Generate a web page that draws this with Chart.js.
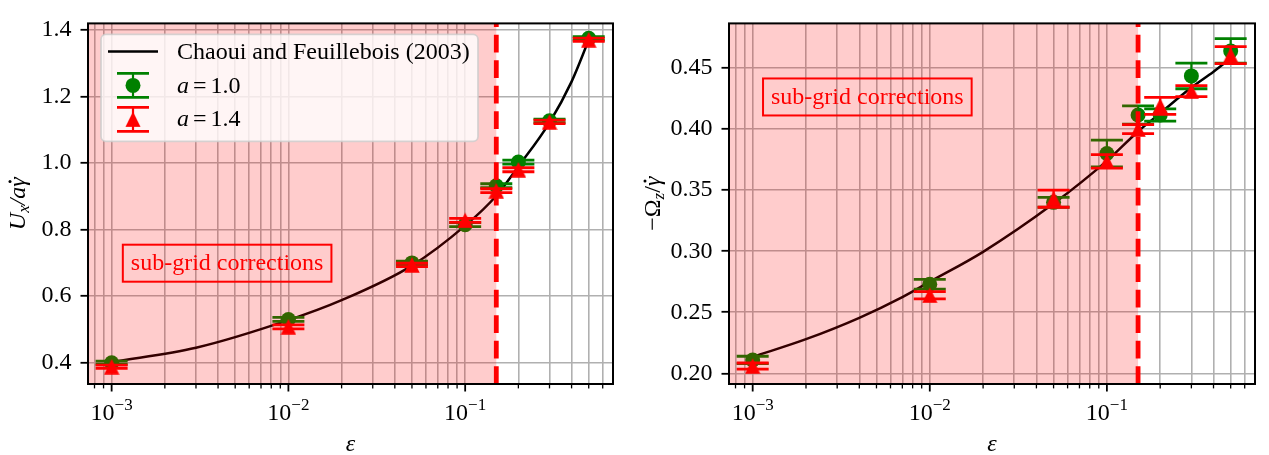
<!DOCTYPE html>
<html>
<head>
<meta charset="utf-8">
<script src="https://cdn.jsdelivr.net/npm/chart.js@4.4.1/dist/chart.umd.min.js"></script>
<style>
html, body { margin: 0; padding: 0; background: #fff; }
#wrap { position: relative; width: 1269px; height: 455px; }
canvas { position: absolute; top: 0; }
</style>
</head>
<body>
<div id="wrap">
    <canvas id="velocityChart" width="630" height="455" style="left:0"></canvas>
    <canvas id="rotationChart" width="639" height="455" style="left:630px"></canvas>
</div>
<script>
// gap sizes epsilon where the simulations were run
const gapValues = [0.001, 0.01, 0.05, 0.1, 0.15, 0.2, 0.3, 0.5];

const velocityA10 = [0.400, 0.530, 0.700, 0.815, 0.932, 1.003, 1.127, 1.375];
const velocityA10Err = [0.005, 0.006, 0.005, 0.006, 0.006, 0.006, 0.005, 0.005];
const velocityA14 = [0.388, 0.508, 0.694, 0.828, 0.917, 0.980, 1.124, 1.371];
const velocityA14Err = [0.005, 0.006, 0.005, 0.006, 0.006, 0.006, 0.005, 0.005];

const rotationA10 = [0.211, 0.273, 0.340, 0.380, 0.4115, 0.4115, 0.4435, 0.464];
const rotationA10Err = [0.003, 0.004, 0.004, 0.011, 0.0075, 0.005, 0.0105, 0.010];
const rotationA14 = [0.206, 0.264, 0.343, 0.3735, 0.400, 0.419, 0.431, 0.4605];
const rotationA14Err = [0.0025, 0.003, 0.007, 0.0055, 0.0037, 0.007, 0.0045, 0.007];

// Chaoui and Feuillebois (2003) reference curves
const velocityCurveGaps = [0.001, 0.003, 0.01, 0.02, 0.05, 0.1, 0.15, 0.2, 0.3, 0.4, 0.5];
const velocityCurve = [0.402, 0.445, 0.528, 0.588, 0.692, 0.812, 0.902, 0.990, 1.122, 1.245, 1.370];
const rotationCurveGaps = [0.001, 0.002, 0.004, 0.007, 0.01, 0.02, 0.05, 0.1, 0.15, 0.2, 0.3, 0.4, 0.5];
const rotationCurve = [0.2135, 0.228, 0.2455, 0.2625, 0.275, 0.2995, 0.339, 0.374, 0.398, 0.413, 0.434, 0.447, 0.458];

const velocityTicks = [0.4, 0.6, 0.8, 1.0, 1.2, 1.4];
const rotationTicks = [0.20, 0.25, 0.30, 0.35, 0.40, 0.45];
const gapDecades = [0.001, 0.01, 0.1];
const gapDecadeExponents = ['\u22123', '\u22122', '\u22121'];
const cutoffGap = 0.15;

const X_MIN = 7.35e-4;
const X_MAX = 0.686;
const SERIF = '"Liberation Serif", "DejaVu Serif", serif';
const FS = 24;
const GREEN = '#008000';
const RED = '#ff0000';

function toPoints(xs, ys) {
    return xs.map((x, i) => ({ x, y: ys[i] }));
}

function logTicks(min, max) {
    const ticks = [];
    for (let exp = Math.floor(Math.log10(min)); exp <= Math.ceil(Math.log10(max)); exp++) {
        for (let m = 1; m < 10; m++) {
            const v = m * Math.pow(10, exp);
            if (v >= min && v <= max) {
                ticks.push({ value: v, major: m === 1 });
            }
        }
    }
    return ticks;
}

function triangleImage(color, size) {
    const c = document.createElement('canvas');
    c.width = size;
    c.height = size;
    const g = c.getContext('2d');
    g.fillStyle = color;
    g.beginPath();
    g.moveTo(size / 2, 0.3);
    g.lineTo(0.3, size - 0.3);
    g.lineTo(size - 0.3, size - 0.3);
    g.closePath();
    g.fill();
    return c;
}

const TRIANGLE = triangleImage(RED, 16);

// mixed italic / subscript text runs
function piecesWidth(ctx, pieces) {
    return pieces.reduce((w, p) => {
        ctx.font = p.font;
        return w + (p.gap || 0) + ctx.measureText(p.text).width;
    }, 0);
}

function drawPieces(ctx, pieces, x, baseline) {
    let cx = x;
    pieces.forEach((p) => {
        cx += p.gap || 0;
        ctx.font = p.font;
        const w = ctx.measureText(p.text).width;
        ctx.fillText(p.text, cx, baseline + (p.dy || 0));
        if (p.dot) {
            ctx.beginPath();
            ctx.arc(cx + w * 0.55, baseline - 15, 1.5, 0, Math.PI * 2);
            ctx.fill();
        }
        cx += w;
    });
}

function drawErrorBar(ctx, px, top, bottom, color) {
    ctx.strokeStyle = color;
    ctx.lineWidth = 2.2;
    ctx.beginPath();
    ctx.moveTo(px, top);
    ctx.lineTo(px, bottom);
    ctx.stroke();
    ctx.lineWidth = 2.8;
    ctx.beginPath();
    ctx.moveTo(px - 16, top);
    ctx.lineTo(px + 16, top);
    ctx.moveTo(px - 16, bottom);
    ctx.lineTo(px + 16, bottom);
    ctx.stroke();
}

const errorBarPlugin = {
    id: 'errorBars',
    beforeDatasetDraw(chart, args) {
        const ds = chart.data.datasets[args.index];
        if (!ds.errors) {
            return;
        }
        const { ctx, chartArea, scales: { x, y } } = chart;
        ctx.save();
        ctx.beginPath();
        ctx.rect(chartArea.left, chartArea.top, chartArea.width, chartArea.height);
        ctx.clip();
        ds.data.forEach((pt, i) => {
            drawErrorBar(ctx, x.getPixelForValue(pt.x),
                y.getPixelForValue(pt.y + ds.errors[i]),
                y.getPixelForValue(pt.y - ds.errors[i]), ds.errorColor);
        });
        ctx.restore();
    },
};

function decorPlugin(panel) {
    return {
        id: 'decor',
        afterDatasetsDraw(chart) {
            const { ctx, chartArea: a, scales: { x } } = chart;
            const cut = x.getPixelForValue(cutoffGap);
            ctx.save();
            // shaded sub-grid region sits over the data, as in the original
            ctx.fillStyle = 'rgba(255,0,0,0.2)';
            ctx.fillRect(a.left, a.top, cut - a.left, a.height);
            ctx.strokeStyle = RED;
            ctx.lineWidth = 4.8;
            ctx.setLineDash([17.8, 7.7]);
            ctx.beginPath();
            ctx.moveTo(cut, a.bottom);
            ctx.lineTo(cut, a.top);
            ctx.stroke();
            ctx.restore();
        },
        afterDraw(chart) {
            const { ctx, chartArea: a, scales: { x } } = chart;
            ctx.save();
            ctx.fillStyle = '#000';
            ctx.strokeStyle = '#000';

            // x tick marks and labels (10^n)
            x.ticks.forEach((t) => {
                const px = x.getPixelForValue(t.value);
                ctx.lineWidth = t.major ? 1.8 : 1.3;
                ctx.beginPath();
                ctx.moveTo(px, a.bottom);
                ctx.lineTo(px, a.bottom + (t.major ? 7.5 : 4.4));
                ctx.stroke();
            });
            gapDecades.forEach((v, i) => {
                const pieces = [
                    { text: '10', font: `${FS}px ${SERIF}` },
                    { text: gapDecadeExponents[i], font: `17px ${SERIF}`, dy: -10 },
                ];
                const w = piecesWidth(ctx, pieces);
                drawPieces(ctx, pieces, x.getPixelForValue(v) - w / 2, a.bottom + 36);
            });

            // x title
            ctx.font = `italic ${FS}px ${SERIF}`;
            ctx.textAlign = 'center';
            ctx.fillText('\u03b5', (a.left + a.right) / 2, 451);
            ctx.textAlign = 'left';

            // y title, rotated
            ctx.save();
            ctx.translate(panel.yTitleX, (a.top + a.bottom) / 2);
            ctx.rotate(-Math.PI / 2);
            const tw = piecesWidth(ctx, panel.yTitle);
            drawPieces(ctx, panel.yTitle, -tw / 2, 8);
            ctx.restore();

            // frame
            ctx.lineWidth = 2;
            ctx.strokeRect(a.left, a.top, a.width, a.height);

            // annotation box
            ctx.font = `${FS}px ${SERIF}`;
            ctx.fillStyle = RED;
            ctx.strokeStyle = RED;
            const bx = a.left + panel.boxAt[0] * a.width;
            const by = a.top + panel.boxAt[1] * a.height;
            const label = 'sub-grid corrections';
            const lw = ctx.measureText(label).width;
            ctx.textAlign = 'center';
            ctx.fillText(label, bx, by + 7);
            ctx.lineWidth = 2;
            ctx.strokeRect(bx - lw / 2 - 8, by - 18.5, lw + 16, 37);
            ctx.textAlign = 'left';

            if (panel.legend) {
                drawLegend(ctx, a);
            }
            ctx.restore();
        },
    };
}

function drawLegend(ctx, a) {
    const x0 = a.left + 13;
    const y0 = a.top + 11;
    ctx.save();
    ctx.beginPath();
    ctx.roundRect(x0, y0, 377, 107, 5);
    ctx.fillStyle = 'rgba(255,255,255,0.8)';
    ctx.fill();
    ctx.strokeStyle = 'rgba(204,204,204,0.8)';
    ctx.lineWidth = 1.8;
    ctx.stroke();

    ctx.strokeStyle = '#000';
    ctx.lineWidth = 2.5;
    ctx.beginPath();
    ctx.moveTo(a.left + 20, a.top + 28);
    ctx.lineTo(a.left + 70, a.top + 28);
    ctx.stroke();

    const mx = a.left + 45;
    drawErrorBar(ctx, mx, a.top + 50, a.top + 74, GREEN);
    ctx.fillStyle = GREEN;
    ctx.beginPath();
    ctx.arc(mx, a.top + 62, 7.5, 0, Math.PI * 2);
    ctx.fill();

    drawErrorBar(ctx, mx, a.top + 84, a.top + 108, RED);
    ctx.drawImage(TRIANGLE, mx - 8, a.top + 96 - 8);

    ctx.fillStyle = '#000';
    const tx = a.left + 89;
    ctx.font = `${FS}px ${SERIF}`;
    ctx.fillText('Chaoui and Feuillebois (2003)', tx, a.top + 36);
    ['1.0', '1.4'].forEach((val, i) => {
        drawPieces(ctx, [
            { text: 'a', font: `italic ${FS}px ${SERIF}` },
            { text: '=', font: `${FS}px ${SERIF}`, gap: 4 },
            { text: val, font: `${FS}px ${SERIF}`, gap: 4 },
        ], tx, a.top + 70 + i * 33);
    });
    ctx.restore();
}

function buildChart(id, cfg) {
    const canvas = document.getElementById(id);
    return new Chart(canvas, {
        type: 'line',
        data: {
            datasets: [
                {
                    label: 'Chaoui and Feuillebois (2003)',
                    data: toPoints(cfg.curveX, cfg.curveY),
                    borderColor: '#000',
                    borderWidth: 2.5,
                    pointRadius: 0,
                    cubicInterpolationMode: 'monotone',
                    order: 3,
                },
                {
                    label: 'a = 1.0',
                    data: toPoints(gapValues, cfg.a10),
                    errors: cfg.a10Err,
                    errorColor: GREEN,
                    showLine: false,
                    pointStyle: 'circle',
                    pointRadius: 7.5,
                    pointBorderWidth: 0,
                    pointBackgroundColor: GREEN,
                    borderColor: GREEN,
                    order: 2,
                },
                {
                    label: 'a = 1.4',
                    data: toPoints(gapValues, cfg.a14),
                    errors: cfg.a14Err,
                    errorColor: RED,
                    showLine: false,
                    pointStyle: TRIANGLE,
                    pointRadius: 8,
                    pointBorderWidth: 0,
                    pointBackgroundColor: RED,
                    borderColor: RED,
                    order: 1,
                },
            ],
        },
        options: {
            responsive: false,
            animation: false,
            devicePixelRatio: 1,
            events: [],
            layout: { padding: { left: 0, top: 12, right: cfg.padRight, bottom: 0 } },
            plugins: { legend: { display: false }, tooltip: { enabled: false } },
            scales: {
                x: {
                    type: 'logarithmic',
                    min: X_MIN,
                    max: X_MAX,
                    afterBuildTicks: (scale) => { scale.ticks = logTicks(X_MIN, X_MAX); },
                    afterFit: (scale) => { scale.height = 71; },
                    ticks: { display: false },
                    grid: { color: '#b0b0b0', lineWidth: 1.6, drawTicks: false },
                    border: { display: false },
                },
                y: {
                    type: 'linear',
                    min: cfg.yMin,
                    max: cfg.yMax,
                    afterBuildTicks: (scale) => { scale.ticks = cfg.yTicks.map((v) => ({ value: v })); },
                    afterFit: (scale) => { scale.width = cfg.yWidth; },
                    ticks: {
                        color: '#000',
                        padding: 9,
                        font: { family: SERIF, size: FS },
                        callback: (value) => Number(value).toFixed(cfg.decimals),
                    },
                    grid: { color: '#b0b0b0', lineWidth: 1.6, tickLength: 7.5, tickColor: '#000', tickWidth: 1.8 },
                    border: { display: false },
                },
            },
        },
        plugins: [errorBarPlugin, decorPlugin(cfg.panel)],
    });
}

buildChart('velocityChart', {
    curveX: velocityCurveGaps,
    curveY: velocityCurve,
    a10: velocityA10,
    a10Err: velocityA10Err,
    a14: velocityA14,
    a14Err: velocityA14Err,
    yMin: 0.336,
    yMax: 1.42,
    yTicks: velocityTicks,
    decimals: 1,
    yWidth: 88,
    padRight: 17,
    panel: {
        legend: true,
        boxAt: [0.265, 0.665],
        yTitleX: 17,
        yTitle: [
            { text: 'U', font: `italic ${FS}px ${SERIF}` },
            { text: 'x', font: `italic 17px ${SERIF}`, dy: 4 },
            { text: '/', font: `italic ${FS}px ${SERIF}` },
            { text: 'a', font: `italic ${FS}px ${SERIF}` },
            { text: '\u03b3', font: `italic ${FS}px ${SERIF}`, dot: true },
        ],
    },
});

buildChart('rotationChart', {
    curveX: rotationCurveGaps,
    curveY: rotationCurve,
    a10: rotationA10,
    a10Err: rotationA10Err,
    a14: rotationA14,
    a14Err: rotationA14Err,
    yMin: 0.1913,
    yMax: 0.4865,
    yTicks: rotationTicks,
    decimals: 2,
    yWidth: 99,
    padRight: 14,
    panel: {
        legend: false,
        boxAt: [0.263, 0.204],
        yTitleX: 22,
        yTitle: [
            { text: '\u2212', font: `${FS}px ${SERIF}` },
            { text: '\u03a9', font: `${FS}px ${SERIF}` },
            { text: 'z', font: `italic 17px ${SERIF}`, dy: 4 },
            { text: '/', font: `${FS}px ${SERIF}` },
            { text: '\u03b3', font: `italic ${FS}px ${SERIF}`, dot: true },
        ],
    },
});
</script>
</body>
</html>
